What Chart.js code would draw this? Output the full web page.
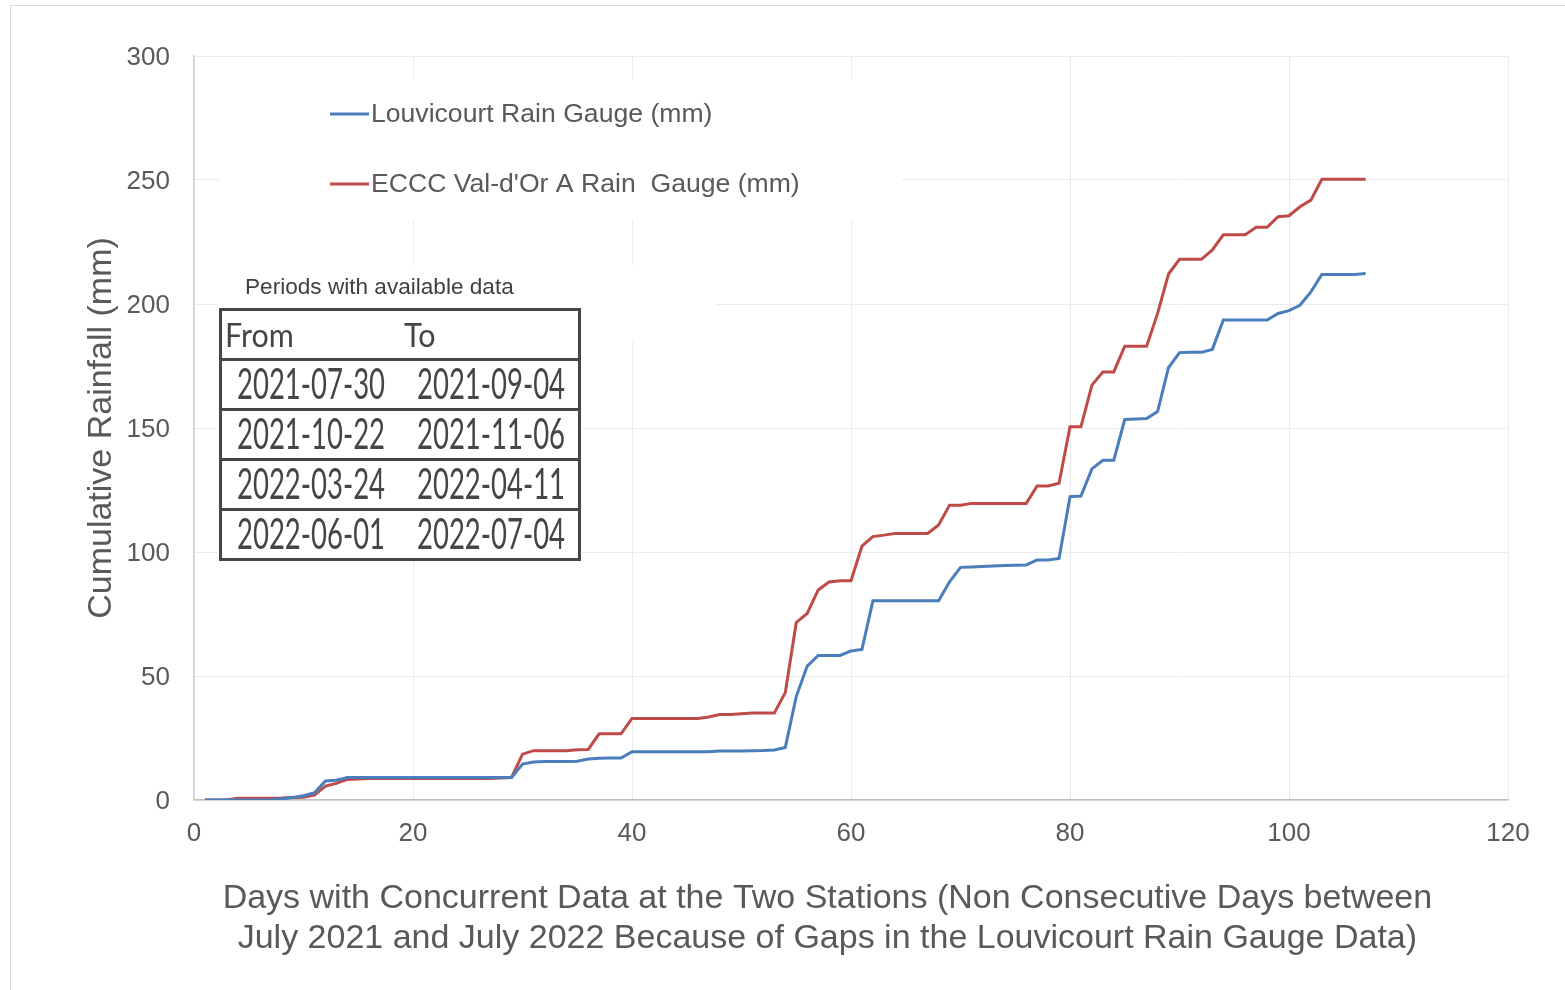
<!DOCTYPE html>
<html>
<head>
<meta charset="utf-8">
<script src="https://cdn.jsdelivr.net/npm/chart.js@4.4.1/dist/chart.umd.min.js"></script>
<style>
  html, body { margin: 0; padding: 0; background: #ffffff; }
  #wrap { position: relative; width: 1565px; height: 990px; overflow: hidden; }
  #chart { position: absolute; left: 0; top: 0; }
  .cap { position: absolute; left: 245px; top: 273px; font-family: "Liberation Sans", Arial, sans-serif; font-size: 22.6px; line-height: 28px; color: #404040; white-space: nowrap; }
  .row { position: absolute; left: 219px; width: 362px; height: 53px; border: 3px solid #454545; box-sizing: border-box; }
  .cell { position: absolute; top: 0; line-height: 46px; height: 46px; font-family: Lato, "Open Sans", sans-serif; color: #454545; white-space: nowrap; }
  .cell span { display: inline-block; transform-origin: left center; }
  .hdr span { font-size: 30.5px; transform: scaleY(1.05); }
  .dat span { font-size: 27.5px; transform: scaleY(1.52); }
</style>
</head>
<body>
<div id="wrap">
  <canvas id="chart" width="1565" height="990"></canvas>
  <div class="cap">Periods with available data</div>
  <div id="tbl"></div>
</div>
<script>
// ---- data ----
const days = [1,2,3,4,5,6,7,8,9,10,11,12,13,14,15,16,17,18,19,20,21,22,23,24,25,26,27,28,29,30,
  31,32,33,34,35,36,37,38,39,40,41,42,43,44,45,46,47,48,49,50,51,52,53,54,55,56,57,58,59,60,
  61,62,63,64,65,66,67,68,69,70,71,72,73,74,75,76,77,78,79,80,81,82,83,84,85,86,87,88,89,90,
  91,92,93,94,95,96,97,98,99,100,101,102,103,104,105,106,107];

const louvicourt = [0,0,0,0,0,0,0,
  0.5,1.0,1.7,2.9,
  7.7,8.0,9.1,
  9.1,9.1,9.1,9.1,9.1,9.1,9.1,9.1,9.1,9.1,9.1,9.1,9.1,9.1,9.1,
  14.5,15.3,15.5,15.5,15.5,15.6,16.5,16.8,16.9,16.9,
  19.5,19.5,19.5,19.5,19.5,19.5,19.5,19.5,
  19.8,19.8,19.8,19.9,20.0,20.2,21.2,
  41.7,54.0,58.3,58.3,58.3,60.1,60.7,
  80.3,80.3,80.3,80.3,80.3,80.3,80.3,
  88.0,93.8,94.0,94.2,94.4,94.6,94.7,94.8,96.8,96.8,97.4,
  122.3,122.6,133.5,137.0,137.0,153.4,153.6,153.8,156.6,
  174.4,180.4,180.5,180.5,181.7,193.5,193.5,193.5,193.5,193.5,
  196.2,197.3,199.5,204.9,211.9,211.9,211.9,211.9,212.3];

const valdor = [0,0,0,
  0.7,0.7,0.7,0.7,0.8,1.0,1.1,2.0,
  5.6,6.7,8.3,8.5,8.7,
  8.7,8.7,8.7,8.7,8.7,8.7,8.7,8.7,8.7,8.7,8.7,
  8.9,9.1,
  18.5,19.9,19.9,19.9,19.9,20.3,20.4,26.7,26.7,26.7,
  32.9,32.9,32.9,32.9,32.9,32.9,32.9,
  33.5,34.5,34.5,34.8,35.1,35.1,35.1,
  43.3,71.6,75.2,84.7,87.9,88.4,88.4,
  102.4,106.2,106.8,107.5,107.5,107.5,107.5,110.9,118.9,118.9,
  119.6,119.6,119.6,119.6,119.6,119.6,
  126.6,126.6,127.7,150.5,150.5,167.3,172.6,172.6,
  183.0,183.0,183.0,196.2,212.1,218.0,218.0,218.0,221.8,
  227.9,227.9,227.9,230.9,230.9,235.2,235.6,239.2,241.9,
  250.3,250.3,250.3,250.3,250.3];

const seriesNames = ["Louvicourt Rain Gauge (mm)", "ECCC Val-d'Or A Rain  Gauge (mm)"];
const xTicks = [0, 20, 40, 60, 80, 100, 120];
const yTicks = [0, 50, 100, 150, 200, 250, 300];
const xTitle = ["Days with Concurrent Data at the Two Stations (Non Consecutive Days between     ",
                "July 2021 and July 2022 Because of Gaps in the Louvicourt Rain Gauge Data)     "];
const yTitle = "Cumulative Rainfall (mm)";
const periodHeader = ["From", "To"];
const periodFrom = ["2021-07-30", "2021-10-22", "2022-03-24", "2022-06-01"];
const periodTo   = ["2021-09-04", "2021-11-06", "2022-04-11", "2022-07-04"];

// ---- table (HTML text) ----
(function buildTable() {
  const tbl = document.getElementById('tbl');
  const rows = [[periodHeader[0], periodHeader[1], 'hdr']];
  for (let i = 0; i < periodFrom.length; i++) rows.push([periodFrom[i], periodTo[i], 'dat']);
  rows.forEach((r, i) => {
    const d = document.createElement('div');
    d.className = 'row';
    d.style.top = (308 + 50 * i) + 'px';
    const isH = r[2] === 'hdr';
    const c1 = document.createElement('div');
    c1.className = 'cell ' + r[2];
    c1.style.left = (isH ? 3 : 15) + 'px';
    c1.innerHTML = '<span></span>'; c1.firstChild.textContent = r[0];
    const c2 = document.createElement('div');
    c2.className = 'cell ' + r[2];
    c2.style.left = (isH ? 182 : 195) + 'px';
    c2.innerHTML = '<span></span>'; c2.firstChild.textContent = r[1];
    d.appendChild(c1); d.appendChild(c2);
    tbl.appendChild(d);
  });
})();

const FONT = '"Liberation Sans", Arial, sans-serif';
const TXT = '#595959';
const colors = ['#4A7EBB', '#BE4B48'];

const overlayPlugin = {
  id: 'overlay',
  beforeDatasetsDraw(chart) {
    const ctx = chart.ctx;
    ctx.save();
    ctx.fillStyle = '#ffffff';
    ctx.fillRect(219, 80, 683, 140);   // legend box
    ctx.fillRect(229, 265, 487, 77);   // caption box
    ctx.fillRect(217, 267, 365, 294);  // table box
    ctx.restore();
  },
  afterDraw(chart) {
    const ctx = chart.ctx;
    ctx.save();
    ctx.strokeStyle = '#d9d9d9';
    ctx.lineWidth = 1;
    ctx.strokeRect(10.5, 5.5, 1600, 1000);
    const ys = [114, 184];
    chart.data.datasets.forEach((ds, i) => {
      ctx.strokeStyle = ds.borderColor;
      ctx.lineWidth = 3;
      ctx.beginPath();
      ctx.moveTo(330, ys[i]);
      ctx.lineTo(369, ys[i]);
      ctx.stroke();
      ctx.fillStyle = TXT;
      ctx.font = '26.6px ' + FONT;
      ctx.textBaseline = 'middle';
      ctx.textAlign = 'left';
      ctx.fillText(ds.label, 371, ys[i] + 1);
    });
    ctx.restore();
  }
};

new Chart(document.getElementById('chart'), {
  type: 'line',
  data: {
    datasets: [
      { label: seriesNames[0], data: days.map((d, i) => ({ x: d, y: louvicourt[i] })),
        borderColor: colors[0], backgroundColor: colors[0], borderWidth: 3, pointRadius: 0, tension: 0 },
      { label: seriesNames[1], data: days.map((d, i) => ({ x: d, y: valdor[i] })),
        borderColor: colors[1], backgroundColor: colors[1], borderWidth: 3, pointRadius: 0, tension: 0 }
    ]
  },
  options: {
    responsive: false,
    animation: false,
    devicePixelRatio: 1,
    layout: { padding: { top: 56, right: 57, left: 0, bottom: 0 } },
    plugins: { legend: { display: false }, tooltip: { enabled: false } },
    scales: {
      x: {
        type: 'linear', min: 0, max: 120,
        afterBuildTicks: (s) => { s.ticks = xTicks.map(v => ({ value: v })); },
        afterFit: (s) => { s.height = 190; },
        grid: { color: '#ebebeb', lineWidth: 1, drawTicks: false },
        border: { color: '#bfbfbf', width: 1.5 },
        ticks: { padding: 18.5, color: TXT, font: { size: 26, family: FONT }, maxRotation: 0 },
        title: { display: true, text: xTitle, color: TXT, font: { size: 34, family: FONT, lineHeight: 40 / 34 },
                 padding: { top: 0, bottom: 31 } }
      },
      y: {
        min: 0, max: 300,
        afterBuildTicks: (s) => { s.ticks = yTicks.map(v => ({ value: v })); },
        afterFit: (s) => { s.width = 194; },
        grid: { color: '#ebebeb', lineWidth: 1, drawTicks: false },
        border: { color: '#d0d0d0', width: 1.5 },
        ticks: { padding: 24, labelOffset: 2, color: TXT, font: { size: 26, family: FONT } },
        title: { display: true, text: yTitle, color: TXT, font: { size: 34, family: FONT, lineHeight: 1.2 },
                 padding: { top: 81, bottom: 0 } }
      }
    }
  },
  plugins: [overlayPlugin]
});
</script>
</body>
</html>
